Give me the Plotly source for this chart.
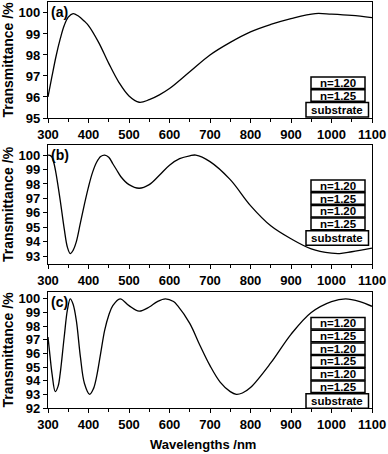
import plotly.graph_objects as go

# ---------------- data ----------------
wl_a = [300, 310, 320, 330, 340, 350, 362, 375, 390, 400, 425, 450, 475, 500, 525,
        550, 575, 600, 650, 700, 750, 800, 850, 900, 960, 1000, 1050, 1100]
T_a = [96.0, 97.0, 97.95, 98.75, 99.4, 99.8, 99.97, 99.85, 99.6, 99.4, 98.6, 97.6,
       96.7, 96.05, 95.75, 95.87, 96.1, 96.4, 97.2, 98.0, 98.6, 99.1, 99.45, 99.73,
       99.97, 99.94, 99.88, 99.78]

wl_b = [300, 305, 310, 315, 320, 330, 340, 348, 355, 362, 370, 380, 390, 400, 410,
        420, 430, 440, 450, 460, 470, 480, 500, 525, 550, 575, 600, 625, 650, 665,
        700, 750, 800, 850, 900, 950, 1000, 1020, 1050, 1100]
T_b = [100.0, 99.98, 99.85, 99.4, 98.7, 96.9, 94.9, 93.6, 93.17, 93.4, 94.0, 95.3,
       96.6, 97.8, 98.8, 99.5, 99.9, 100.0, 99.85, 99.4, 98.95, 98.5, 97.95, 97.7,
       97.95, 98.6, 99.3, 99.75, 99.95, 100.0, 99.55, 98.3, 96.5, 95.1, 94.2, 93.5,
       93.2, 93.17, 93.3, 93.55]

wl_c = [300, 305, 310, 318, 325, 330, 340, 348, 355, 362, 370, 380, 390, 403, 412,
        420, 430, 440, 450, 460, 478, 500, 525, 550, 570, 590, 610, 620, 650, 675,
        700, 725, 750, 765, 780, 800, 850, 900, 950, 1000, 1035, 1070, 1100]
T_c = [97.2, 95.8, 94.5, 93.2, 93.6, 94.5, 97.2, 99.2, 100.0, 99.6, 98.4, 95.75,
       93.8, 93.0, 93.4, 94.3, 96.0, 97.7, 98.8, 99.5, 100.0, 99.5, 99.1, 99.4, 99.8,
       100.0, 99.8, 99.5, 98.2, 96.6, 95.1, 93.9, 93.2, 93.0, 93.1, 93.5, 95.3, 97.4,
       99.0, 99.8, 100.0, 99.8, 99.45]

panel_labels = ["(a)", "(b)", "(c)"]
stack_a = ["n=1.20", "n=1.25", "substrate"]
stack_b = ["n=1.20", "n=1.25", "n=1.20", "n=1.25", "substrate"]
stack_c = ["n=1.20", "n=1.25", "n=1.20", "n=1.25", "n=1.20", "n=1.25", "substrate"]
y_ticks_a = [95, 96, 97, 98, 99, 100]
y_ticks_b = [93, 94, 95, 96, 97, 98, 99, 100]
y_ticks_c = [92, 93, 94, 95, 96, 97, 98, 99, 100]
x_ticks = [300, 400, 500, 600, 700, 800, 900, 1000, 1100]

# ---------------- layout geometry (pixels) ----------------
W, H = 388, 454
L, R, T, B = 48, 16, 2, 46
PW, PH = W - L - R, H - T - B


def py2paper(py):
    return (H - B - py) / PH


def px2paper(px):
    return (px - L) / PW


panels = [
    dict(x=wl_a, y=T_a, top=2, bot=118, rng=[95, 100.52], ticks=y_ticks_a, stack=stack_a,
         box_top=77),
    dict(x=wl_b, y=T_b, top=145, bot=264, rng=[92.45, 100.7], ticks=y_ticks_b, stack=stack_b,
         box_top=180),
    dict(x=wl_c, y=T_c, top=292, bot=408, rng=[92, 100.5], ticks=y_ticks_c, stack=stack_c,
         box_top=317.5),
]

FONT = "Liberation Sans, Arial, sans-serif"
fig = go.Figure()
layout = dict(
    width=W, height=H,
    margin=dict(l=L, r=R, t=T, b=B, pad=0),
    paper_bgcolor="white", plot_bgcolor="white",
    showlegend=False,
    font=dict(family=FONT, size=13, color="black", weight="bold"),
)
shapes, annotations = [], []

for i, p in enumerate(panels):
    k = i + 1
    xa = "x" if k == 1 else f"x{k}"
    ya = "y" if k == 1 else f"y{k}"
    fig.add_trace(go.Scatter(x=p["x"], y=p["y"], mode="lines", xaxis=xa, yaxis=ya,
                             line=dict(color="black", width=1.3, shape="spline",
                                       smoothing=1.0),
                             hoverinfo="skip"))
    dom = [py2paper(p["bot"]), py2paper(p["top"])]
    layout[f"xaxis{k}" if k > 1 else "xaxis"] = dict(
        domain=[0, 1], anchor=ya, range=[300, 1100], tickvals=x_ticks,
        ticks="outside", ticklen=4, tickwidth=1.2, tickcolor="black",
        minor=dict(dtick=50, tick0=300, ticks="outside", ticklen=3, tickwidth=1.2,
                   tickcolor="black"),
        showline=True, linecolor="black", linewidth=1.4, mirror=True,
        showgrid=False, zeroline=False,
        tickfont=dict(family=FONT, size=13, color="black", weight="bold"),
    )
    layout[f"yaxis{k}" if k > 1 else "yaxis"] = dict(
        domain=dom, anchor=xa, range=p["rng"], tickvals=p["ticks"],
        ticks="outside", ticklen=4, tickwidth=1.2, tickcolor="black",
        showline=True, linecolor="black", linewidth=1.4, mirror=True,
        showgrid=False, zeroline=False,
        tickfont=dict(family=FONT, size=13, color="black", weight="bold"),
        title=dict(text="Transmittance /%", standoff=5,
                   font=dict(family=FONT, size=14, color="black", weight="bold")),
    )
    # top-side inward ticks
    layout[f"xaxis{k + 3}"] = dict(
        overlaying=xa, anchor=ya, side="top", range=[300, 1100], dtick=50, tick0=300,
        ticks="inside", ticklen=4, tickwidth=1.2, tickcolor="black",
        showticklabels=False, showline=False, showgrid=False, zeroline=False,
    )
    # panel label
    annotations.append(dict(text=panel_labels[i], xref="paper", yref="paper",
                            x=px2paper(49), y=py2paper(p["top"] + 10), xanchor="left",
                            yanchor="middle", showarrow=False,
                            font=dict(family=FONT, size=14, color="black", weight="bold")))
    # layer stack boxes
    for j, name in enumerate(p["stack"]):
        y0 = p["box_top"] + j * 12.7
        if name == "substrate":
            x0, x1 = 306, 368.5
            y1 = y0 + 14.5
        else:
            x0, x1 = 311, 365
            y1 = y0 + 11.6
        shapes.append(dict(type="rect", xref="paper", yref="paper",
                           x0=px2paper(x0), x1=px2paper(x1),
                           y0=py2paper(y1), y1=py2paper(y0),
                           line=dict(color="black", width=1.5), fillcolor="white",
                           layer="above"))
        annotations.append(dict(text=name, xref="paper", yref="paper",
                                x=px2paper((x0 + x1) / 2), y=py2paper((y0 + y1) / 2),
                                xanchor="center", yanchor="middle", showarrow=False,
                                font=dict(family=FONT, size=11.5, color="black",
                                          weight="bold")))

annotations.append(dict(text="Wavelengths /nm", xref="paper", yref="paper",
                        x=px2paper(203), y=py2paper(444), xanchor="center",
                        yanchor="middle", showarrow=False,
                        font=dict(family=FONT, size=13, color="black", weight="bold")))
layout["shapes"] = shapes
layout["annotations"] = annotations
fig.update_layout(**layout)
fig.write_html("out.html", config={"displayModeBar": False},
               post_script="document.body.style.margin='0';document.body.style.overflow='hidden';")
